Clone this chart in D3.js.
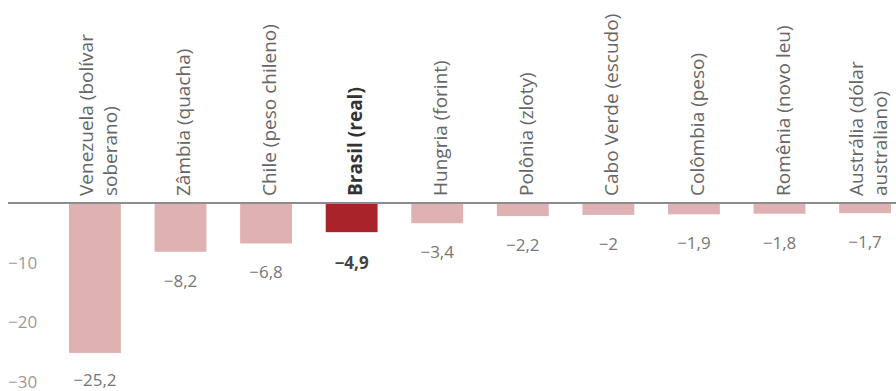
<!DOCTYPE html>
<html>
<head>
<meta charset="utf-8">
<script src="https://cdn.jsdelivr.net/npm/d3@7"></script>
<style>
    body { margin: 0; background: #fff; }
    svg { display: block; font-family: "Open Sans", sans-serif; }
</style>
</head>
<body>
<div id="chart"></div>
<script>
// Desvalorização das moedas (%)
const categories = [
    ["Venezuela (bolívar", "soberano)"],
    ["Zâmbia (quacha)"],
    ["Chile (peso chileno)"],
    ["Brasil (real)"],
    ["Hungria (forint)"],
    ["Polônia (zloty)"],
    ["Cabo Verde (escudo)"],
    ["Colômbia (peso)"],
    ["Romênia (novo leu)"],
    ["Austrália (dólar", "australiano)"]
];
const values = [-25.2, -8.2, -6.8, -4.9, -3.4, -2.2, -2, -1.9, -1.8, -1.7];
const highlight = "Brasil (real)";
const yTicks = [-10, -20, -30];

const width = 896;
const height = 391;

const svg = d3.select("#chart")
    .append("svg")
    .attr("width", width)
    .attr("height", height);

const keys = categories.map(c => c.join(" "));

const x = d3.scaleBand()
    .domain(keys)
    .range([69, 891])
    .paddingInner(0.394)
    .paddingOuter(0);

const y = d3.scaleLinear()
    .domain([0, -30])
    .range([203, 381.5]);

const fmt = v => d3.format(".1~f")(v).replace("-", "\u2212").replace(".", ",");

// y tick labels (no lines)
svg.append("g")
    .selectAll("text")
    .data(yTicks)
    .join("text")
    .attr("x", 8)
    .attr("y", d => y(d))
    .attr("dy", "0.38em")
    .attr("fill", "#9a9a9a")
    .style("font-size", "17px")
    .text(d => String(d).replace("-", "\u2212"));

const data = keys.map((k, i) => ({ key: k, lines: categories[i], value: values[i] }));

// bars
svg.append("g")
    .selectAll("rect")
    .data(data)
    .join("rect")
    .attr("x", d => x(d.key))
    .attr("y", y(0))
    .attr("width", x.bandwidth())
    .attr("height", d => y(d.value) - y(0))
    .attr("fill", d => d.key === highlight ? "#a8232a" : "#e0b1b2");

// zero line
svg.append("line")
    .attr("x1", 8)
    .attr("x2", width)
    .attr("y1", y(0))
    .attr("y2", y(0))
    .attr("stroke", "#8c8c8c")
    .attr("stroke-width", 2);

// value labels
svg.append("g")
    .selectAll("text")
    .data(data)
    .join("text")
    .attr("x", d => x(d.key) + x.bandwidth() / 2)
    .attr("y", d => Math.min(y(d.value) + (d.key === highlight ? 37 : 35), 386))
    .attr("text-anchor", "middle")
    .attr("fill", d => d.key === highlight ? "#444" : "#777")
    .style("font-weight", d => d.key === highlight ? "bold" : "normal")
    .style("font-size", "17px")
    .text(d => fmt(d.value));

// category labels, rotated
const lineGap = 24;
const catLabel = svg.append("g")
    .selectAll("text")
    .data(data)
    .join("text")
    .attr("transform", d => {
        const cx = x(d.key) + x.bandwidth() / 2 + 8 - (d.lines.length - 1) * lineGap / 2 + 2;
        return `translate(${cx},196) rotate(-90)`;
    })
    .attr("fill", d => d.key === highlight ? "#333" : "#666")
    .style("font-weight", d => d.key === highlight ? "bold" : "normal")
    .style("font-size", "19px");

catLabel.selectAll("tspan")
    .data(d => d.lines)
    .join("tspan")
    .attr("x", 0)
    .attr("y", (d, i) => i * lineGap)
    .text(d => d);
</script>
</body>
</html>
